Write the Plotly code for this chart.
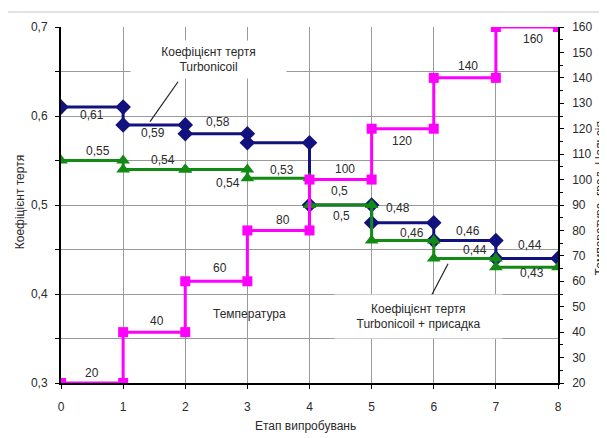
import plotly.graph_objects as go

# ---------------- data ----------------
stages = [0, 1, 2, 3, 4, 5, 6, 7, 8]
friction_turbonicoil = [0.61, 0.59, 0.58, 0.57, 0.50, 0.48, 0.46, 0.44]
friction_additive = [0.55, 0.54, 0.54, 0.53, 0.50, 0.46, 0.44, 0.43]
temperature = [20, 40, 60, 80, 100, 120, 140, 160]

left_ticks = [0.3, 0.4, 0.5, 0.6, 0.7]
right_ticks = [20, 30, 40, 50, 60, 70, 80, 90, 100, 110, 120, 130, 140, 150, 160]

# label placement (styles / offsets only)
blue_show = [True, True, True, False, True, True, True, True]
blue_dx = [0.50, 0.48, 0.53, 0.5, 0.52, 0.43, 0.55, 0.55]
blue_dy = [-8, -8, 12, 0, -11, 15, 10, 13]
green_dx = [0.60, 0.64, 0.69, 0.56, 0.49, 0.65, 0.67, 0.58]
green_dy = [10, 9, -14, 8, 14, 8, 8, -6]
mag_dx = [0.50, 0.55, 0.56, 0.57, 0.57, 0.49, 0.55, 0.60]
mag_dy = [10, 11, 13, 10, 11, -12, 12, -12]

BLUE = "#12127e"
GREEN = "#138a13"
MAGENTA = "#ff00ff"
TXT = "#2a2a2a"
GRID = "#9a9a9a"
FONT = "Liberation Sans, Arial, sans-serif"


def step_xy(vals):
    xs, ys = [], []
    for i, v in enumerate(vals):
        xs += [stages[i], stages[i + 1]]
        ys += [v, v]
    return xs, ys


def fmt(v):
    return f"{v:g}".replace(".", ",")


fig = go.Figure()

bx, by = step_xy(friction_turbonicoil)
fig.add_trace(go.Scatter(x=bx, y=by, mode="lines+markers",
                         line=dict(color=BLUE, width=3),
                         marker=dict(symbol="diamond", size=12, color=BLUE),
                         showlegend=False))
gx, gy = step_xy(friction_additive)
fig.add_trace(go.Scatter(x=gx, y=gy, mode="lines+markers",
                         line=dict(color=GREEN, width=3),
                         marker=dict(symbol="triangle-up", size=12, color=GREEN),
                         showlegend=False))
mx, my = step_xy(temperature)
fig.add_trace(go.Scatter(x=mx, y=my, mode="lines+markers", yaxis="y2",
                         line=dict(color=MAGENTA, width=3),
                         marker=dict(symbol="square", size=10, color=MAGENTA),
                         showlegend=False))

annotations = []
for i, v in enumerate(friction_turbonicoil):
    if blue_show[i]:
        annotations.append(dict(x=stages[i] + blue_dx[i], y=v, xref="x", yref="y",
                                text=fmt(v), showarrow=False, yshift=blue_dy[i],
                                font=dict(size=12, color=TXT, family=FONT)))
for i, v in enumerate(friction_additive):
    annotations.append(dict(x=stages[i] + green_dx[i], y=v, xref="x", yref="y",
                            text=fmt(v), showarrow=False, yshift=green_dy[i],
                            font=dict(size=12, color=TXT, family=FONT)))
for i, v in enumerate(temperature):
    annotations.append(dict(x=stages[i] + mag_dx[i], y=v, xref="x", yref="y2",
                            text=fmt(v), showarrow=False, yshift=mag_dy[i],
                            font=dict(size=12, color=TXT, family=FONT)))

# callout boxes
annotations.append(dict(x=2.37, y=0.6635, xref="x", yref="y",
                        text="Коефіцієнт тертя<br>Turbonicoil", showarrow=False,
                        bgcolor="white", width=155, height=37, borderpad=0,
                        font=dict(size=12, color=TXT, family=FONT)))
annotations.append(dict(x=5.76, y=0.3745, xref="x", yref="y",
                        text="Коефіцієнт тертя<br>Turbonicoil + присадка", showarrow=False,
                        bgcolor="white", width=167, height=43, borderpad=0,
                        font=dict(size=12, color=TXT, family=FONT)))
annotations.append(dict(x=3.04, y=0.377, xref="x", yref="y",
                        text="Температура", showarrow=False,
                        font=dict(size=12, color=TXT, family=FONT)))

# axis titles
annotations.append(dict(x=-0.083, y=0.507, xref="paper", yref="paper",
                        text="Коефіцієнт тертя", textangle=-90, showarrow=False,
                        xanchor="center", yanchor="middle",
                        font=dict(size=12, color=TXT, family=FONT)))
annotations.append(dict(x=0.491, y=-0.122, xref="paper", yref="paper",
                        text="Етап випробувань", showarrow=False,
                        xanchor="center", yanchor="middle",
                        font=dict(size=12, color=TXT, family=FONT)))
annotations.append(dict(x=1.0835, y=0.52, xref="paper", yref="paper",
                        text="Температура, град. Цельсія", textangle=-90, showarrow=False,
                        xanchor="center", yanchor="middle",
                        font=dict(size=12, color=TXT, family=FONT)))

shapes = [
    dict(type="line", xref="x", yref="y", x0=1.884, y0=0.6385, x1=1.433, y1=0.5936,
         line=dict(color="#222", width=1.2), layer="above"),
    dict(type="line", xref="x", yref="y", x0=5.94, y0=0.3953, x1=6.23, y1=0.434,
         line=dict(color="#222", width=1.2), layer="above"),
    dict(type="line", xref="paper", yref="paper", x0=-0.2, x1=1.2, y0=1.042, y1=1.042,
         line=dict(color="#e2e2e2", width=2)),
]

# the page body adds an 8px offset, so the figure is 8px smaller and margins shifted
fig.update_layout(
    width=599, height=430,
    margin=dict(l=53, r=49, t=14, b=55),
    paper_bgcolor="white", plot_bgcolor="white",
    separators=", ",
    font=dict(family=FONT, size=12, color=TXT),
    annotations=annotations,
    shapes=shapes,
    xaxis=dict(range=[stages[0], stages[-1]], tickvals=stages, showgrid=True,
               gridcolor=GRID, gridwidth=1, zeroline=False,
               showline=True, linecolor="black", linewidth=2,
               ticks="outside", ticklen=4, tickcolor="black",
               ticklabelstandoff=8, tickfont=dict(size=12, color=TXT)),
    yaxis=dict(range=[0.3, 0.7], tickvals=left_ticks, showgrid=True,
               gridcolor=GRID, gridwidth=1, zeroline=False,
               showline=True, linecolor="black", linewidth=2,
               ticks="outside", ticklen=4, tickcolor="black",
               ticklabelstandoff=5, tickfont=dict(size=12, color=TXT),
               minor=dict(dtick=0.05, showgrid=True, gridcolor=GRID,
                          ticks="outside", ticklen=4, tickcolor="black")),
    yaxis2=dict(range=[20, 160], tickvals=right_ticks, overlaying="y", side="right",
                showgrid=False, zeroline=False,
                showline=True, linecolor="black", linewidth=1.5,
                ticks="outside", ticklen=4, tickcolor="black",
                ticklabelstandoff=6, tickfont=dict(size=12, color=TXT),
                minor=dict(dtick=5, ticks="outside", ticklen=3, tickcolor="black")),
)

fig.write_html("out.html")
